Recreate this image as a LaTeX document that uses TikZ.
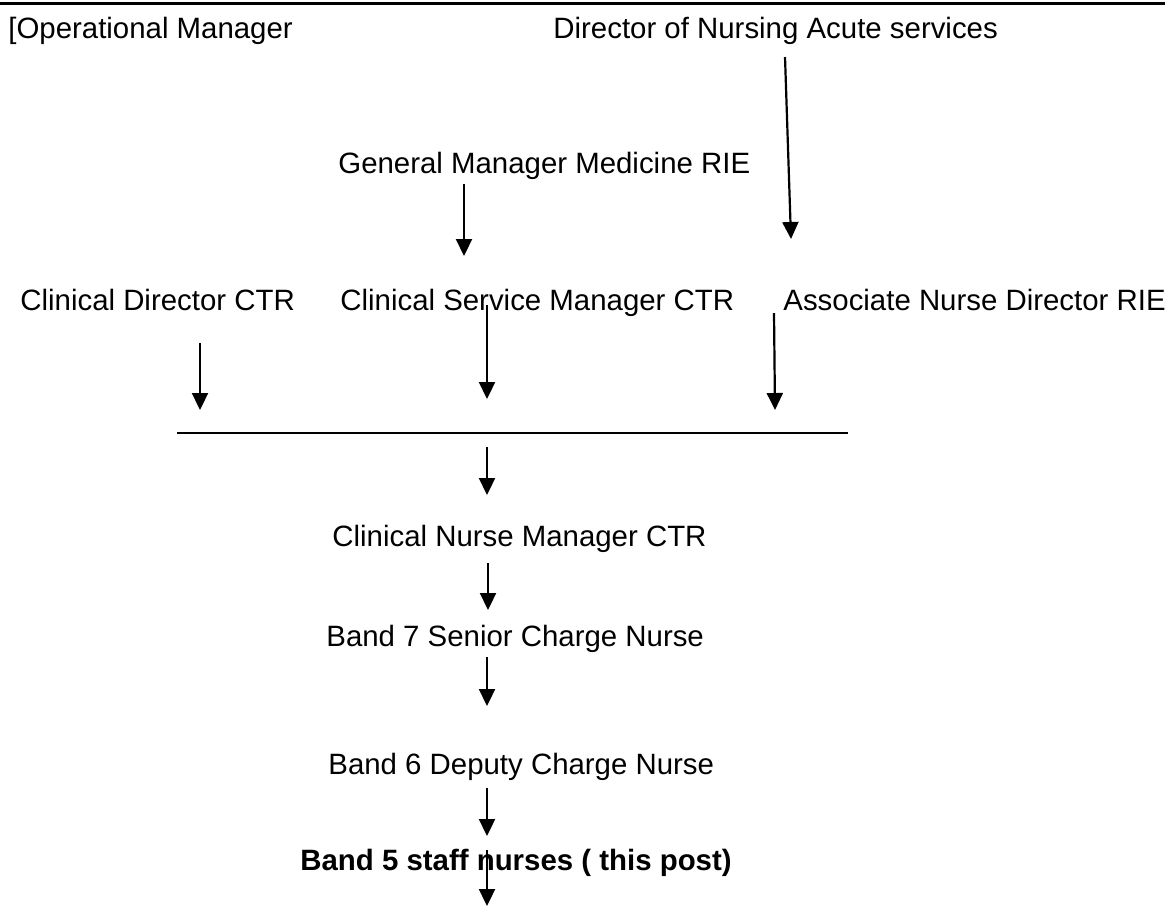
\documentclass[tikz,border=0pt]{standalone}
\usepackage{fontspec}
\setmainfont{Liberation Sans}
\usetikzlibrary{arrows.meta}
\tikzset{
    post/.style={font=\fontsize{14.7}{17}\selectfont, inner sep=0pt, anchor=base west},
    down/.style={-{Triangle[length=8.5pt,width=8pt]}, line width=1.1pt}
}

\begin{document}
\begin{tikzpicture}[x=0.5pt,y=-0.5pt]
    \useasboundingbox (0,0) rectangle (1165,907);

    % Top rule
    \draw[line width=1.6pt] (0,3.5) -- (1165,3.5);

    % Top row
    \node[post] (opman) at (8,38) {[Operational Manager};
    \node[post] (dirnurse) at (553,38) {Director of Nursing Acute services};

    % General manager
    \node[post] (genman) at (338,173) {General Manager Medicine RIE};

    % Middle row
    \node[post] (clindir) at (20,310) {Clinical Director CTR};
    \node[post] (clinserv) at (340,310) {Clinical Service Manager CTR};
    \node[post] (assocdir) at (783,310) {Associate Nurse Director RIE};

    % Join line
    \coordinate (joinL) at (177,433);
    \coordinate (joinR) at (848,433);
    \draw[line width=1pt] (joinL) -- (joinR);

    % Lower chain
    \node[post] (cnm) at (332,546) {Clinical Nurse Manager CTR};
    \node[post] (band7) at (326,646) {Band 7 Senior Charge Nurse};
    \node[post] (band6) at (328,774) {Band 6 Deputy Charge Nurse};
    \node[post, font=\fontsize{14.7}{17}\selectfont\bfseries] (band5) at (300,870) {Band 5 staff nurses ( this post)};

    % Arrow ends
    \coordinate (a1s) at (785,57);  \coordinate (a1e) at (791,239);
    \coordinate (a2s) at (464,184); \coordinate (a2e) at (464,256);
    \coordinate (a3s) at (200,343); \coordinate (a3e) at (200,410);
    \coordinate (a4s) at (487,305); \coordinate (a4e) at (487,399);
    \coordinate (a5s) at (774,313); \coordinate (a5e) at (775,410);
    \coordinate (a6s) at (487,447); \coordinate (a6e) at (487,495);
    \coordinate (a7s) at (488,563); \coordinate (a7e) at (488,610);
    \coordinate (a8s) at (487,657); \coordinate (a8e) at (487,706);
    \coordinate (a9s) at (487,788); \coordinate (a9e) at (487,836);
    \coordinate (a10s) at (487,850); \coordinate (a10e) at (487,906);

    % Arrows
    \foreach \n in {1,...,10}
        \draw[down] (a\n s) -- (a\n e);
\end{tikzpicture}
\end{document}
